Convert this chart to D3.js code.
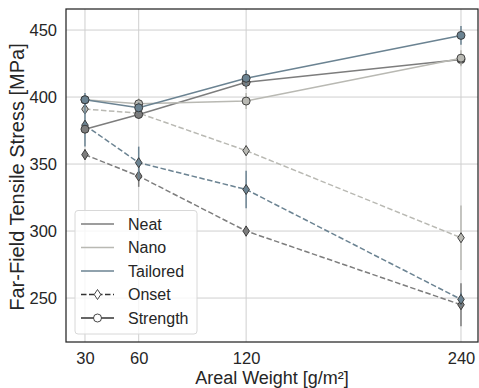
<!DOCTYPE html>
<html><head><meta charset="utf-8">
<script src="https://cdn.jsdelivr.net/npm/d3@7"></script>
<style>body{margin:0;background:#fff;} text{font-family:"Liberation Sans",Arial,sans-serif;fill:#262626;}</style>
</head><body>
<svg id="c" width="479" height="388"></svg>
<script>
const weights = [30, 60, 120, 240];
const xTicks = [30, 60, 120, 240];
const yTicks = [250, 300, 350, 400, 450];
const materials = ["Neat", "Nano", "Tailored"];
const colors = ["#7d7d7d", "#b9b9b3", "#6b8392"];
// Strength (solid, circles)
const strengthNeat = [376, 387, 411, 428];
const strengthNano = [398, 395, 397, 429];
const strengthTailored = [398, 392, 414, 446];
const strengthNeatErr = [3, 3, 5, 4];
const strengthNanoErr = [3, 4, 6, 6];
const strengthTailoredErr = [5, 4, 6, 7];
// Onset (dashed, diamonds)
const onsetNeat = [357, 341, 300, 245];
const onsetNano = [391, 388, 360, 295];
const onsetTailored = [379, 351, 331, 249];
const onsetNeatErr = [4, 8, 4, 16];
const onsetNanoErr = [3, 3, 4, 24];
const onsetTailoredErr = [16, 12, 14, 5];

const svg = d3.select("#c");
const L = 66, R = 478, T = 9, B = 342;
const x = d3.scaleLinear().domain([19.4, 249.5]).range([L, R]);
const y = d3.scaleLinear().domain([217.2, 465.7]).range([B, T]);

// grid
svg.append("g").selectAll("line").data(xTicks).join("line")
  .attr("x1", d => x(d)).attr("x2", d => x(d)).attr("y1", T).attr("y2", B)
  .attr("stroke", "#cfcfcf").attr("stroke-width", 1);
svg.append("g").selectAll("line").data(yTicks).join("line")
  .attr("y1", d => y(d)).attr("y2", d => y(d)).attr("x1", L).attr("x2", R)
  .attr("stroke", "#cfcfcf").attr("stroke-width", 1);

// axes (labels only)
const xAxis = svg.append("g").attr("transform", `translate(0,${B})`)
  .call(d3.axisBottom(x).tickValues(xTicks).tickSize(0).tickPadding(10));
xAxis.select(".domain").remove();
xAxis.selectAll("text").style("font-size", "16.5px").attr("fill", "#262626");
const yAxis = svg.append("g").attr("transform", `translate(${L},0)`)
  .call(d3.axisLeft(y).tickValues(yTicks).tickSize(0).tickPadding(9));
yAxis.select(".domain").remove();
yAxis.selectAll("text").style("font-size", "16.5px").attr("fill", "#262626");

const series = [
  {vals: onsetNeat, err: onsetNeatErr, c: 0, dash: true},
  {vals: onsetNano, err: onsetNanoErr, c: 1, dash: true},
  {vals: onsetTailored, err: onsetTailoredErr, c: 2, dash: true},
  {vals: strengthNeat, err: strengthNeatErr, c: 0, dash: false},
  {vals: strengthNano, err: strengthNanoErr, c: 1, dash: false},
  {vals: strengthTailored, err: strengthTailoredErr, c: 2, dash: false},
];
const line = d3.line().x((d, i) => x(weights[i])).y(d => y(d));
const diamond = "M0,-5L3.3,0L0,5L-3.3,0Z";
series.forEach(s => {
  const g = svg.append("g");
  const col = colors[s.c];
  g.selectAll("line").data(s.vals).join("line")
    .attr("x1", (d, i) => x(weights[i])).attr("x2", (d, i) => x(weights[i]))
    .attr("y1", (d, i) => y(d - s.err[i])).attr("y2", (d, i) => y(d + s.err[i]))
    .attr("stroke", col).attr("stroke-width", 1.5);
  g.append("path").attr("d", line(s.vals)).attr("fill", "none")
    .attr("stroke", col).attr("stroke-width", 1.5)
    .attr("stroke-dasharray", s.dash ? "5.5,2.5" : null);
  if (s.dash) {
    g.selectAll("path.m").data(s.vals).join("path").attr("class", "m")
      .attr("d", diamond)
      .attr("transform", (d, i) => `translate(${x(weights[i])},${y(d)})`)
      .attr("fill", col).attr("stroke", "#333").attr("stroke-width", 0.9);
  } else {
    g.selectAll("circle").data(s.vals).join("circle")
      .attr("cx", (d, i) => x(weights[i])).attr("cy", d => y(d)).attr("r", 4)
      .attr("fill", col).attr("stroke", "#333").attr("stroke-width", 0.9);
  }
});

// frame
svg.append("rect").attr("x", L).attr("y", T).attr("width", R - L).attr("height", B - T)
  .attr("fill", "none").attr("stroke", "#262626").attr("stroke-width", 1.25);

// legend
const lg = svg.append("g");
lg.append("rect").attr("x", 75).attr("y", 210.5).attr("width", 122).attr("height", 123.5)
  .attr("rx", 3).attr("fill", "rgba(255,255,255,0.8)").attr("stroke", "#d8d8d8").attr("stroke-width", 1);
const legendItems = [
  {label: "Neat", col: colors[0], dash: false, mark: null},
  {label: "Nano", col: colors[1], dash: false, mark: null},
  {label: "Tailored", col: colors[2], dash: false, mark: null},
  {label: "Onset", col: "#333", dash: true, mark: "d"},
  {label: "Strength", col: "#333", dash: false, mark: "o"},
];
legendItems.forEach((it, i) => {
  const yy = 224 + i * 23.5;
  lg.append("line").attr("x1", 81).attr("x2", 114).attr("y1", yy).attr("y2", yy)
    .attr("stroke", it.col).attr("stroke-width", 1.5)
    .attr("stroke-dasharray", it.dash ? "5.5,2.5" : null);
  if (it.mark === "d") {
    lg.append("path").attr("d", diamond).attr("transform", `translate(97.5,${yy})`)
      .attr("fill", "#fff").attr("stroke", "#333").attr("stroke-width", 0.9);
  } else if (it.mark === "o") {
    lg.append("circle").attr("cx", 97.5).attr("cy", yy).attr("r", 4)
      .attr("fill", "#fff").attr("stroke", "#333").attr("stroke-width", 0.9);
  }
  lg.append("text").attr("x", 128).attr("y", yy + 5.8).text(it.label).style("font-size", "16px");
});

// axis titles
svg.append("text").attr("x", 272).attr("y", 384).attr("text-anchor", "middle")
  .style("font-size", "18px").text("Areal Weight [g/m²]");
svg.append("text").attr("transform", `translate(24,177) rotate(-90)`)
  .attr("text-anchor", "middle").style("font-size", "20px").text("Far-Field Tensile Stress [MPa]");
</script>
</body></html>
